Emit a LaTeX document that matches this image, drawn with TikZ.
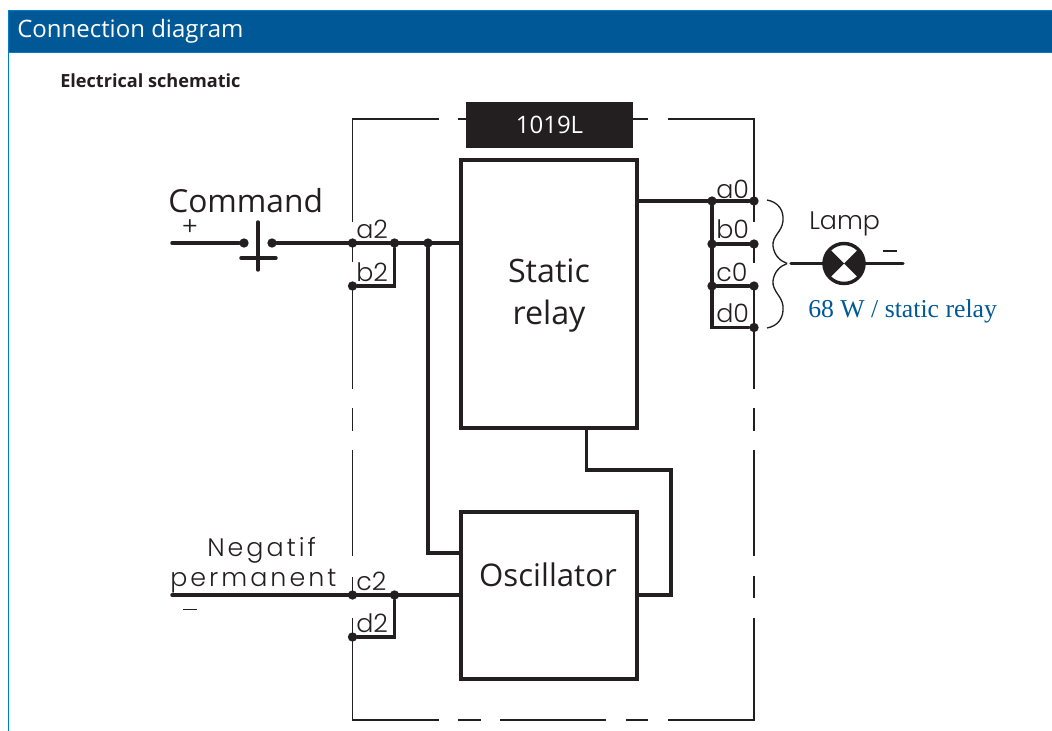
\documentclass[tikz,border=0pt]{standalone}
\usepackage{fontspec}
\setmainfont{Open Sans}
\newfontfamily\serifblue{Liberation Serif}
\newfontfamily\cadfont[LetterSpace=12]{Poppins Light}
\newfontfamily\cadtight{Poppins Light}
\usetikzlibrary{calc}
\definecolor{headblue}{RGB}{0,88,150}
\definecolor{edgeblue}{RGB}{0,125,195}
\definecolor{ink}{RGB}{35,31,32}
\tikzset{
  x=0.75pt,y=-0.75pt,
  heavy/.style={draw=ink,line width=3pt,line join=miter,line cap=round},
  wire/.style={draw=ink,line width=2.6pt,line cap=round},
  frameline/.style={draw=ink,line width=1pt},
  dot/.style={circle,fill=ink,inner sep=0pt,minimum size=7pt},
  blocklabel/.style={inner sep=0pt,text=ink,font=\fontsize{24.2}{30}\selectfont},
  cad/.style={inner sep=0pt,text=ink,anchor=base west,font=\cadtight\fontsize{19}{22}\selectfont},
  cadbig/.style={inner sep=0pt,text=ink,anchor=base west,font=\cadfont\fontsize{19}{22}\selectfont},
  brace/.style={draw=ink,line width=1pt},
}
\begin{document}
\begin{tikzpicture}
\useasboundingbox (0,0) rectangle (1052,731);
% page frame and header
\draw[edgeblue,line width=1.2pt] (8.5,731) -- (8.5,10);
\node[fill=headblue,draw=edgeblue,line width=0.8pt,minimum width=785pt,minimum height=31.5pt,anchor=north west,inner sep=0pt] (header) at (8,10) {};
\node[anchor=base west,inner sep=0pt,text=white,font=\fontsize{18}{22}\selectfont] (title) at (17,38) {Connection diagram};
\node[anchor=base west,inner sep=0pt,text=ink,font=\bfseries\fontsize{13.6}{16}\selectfont] (sub) at (60,88) {Electrical schematic};
% dashed enclosure
\draw[frameline] (439,119) -- (352.5,119) -- (352.5,222);
\draw[frameline] (458,119) -- (470,119);
\draw[frameline] (630,119) -- (648,119);
\draw[frameline] (668,119) -- (754,119) -- (754,222);
\draw[frameline] (352.5,243) -- (352.5,262);
\draw[frameline] (352.5,286) -- (352.5,389);
\draw[frameline] (352.5,408) -- (352.5,431);
\draw[frameline] (352.5,450) -- (352.5,556);
\draw[frameline] (352.5,577) -- (352.5,598);
\draw[frameline] (352.5,618) -- (352.5,720) -- (439,720);
\draw[frameline] (458,720) -- (481,720);
\draw[frameline] (500,720) -- (606,720);
\draw[frameline] (626,720) -- (648,720);
\draw[frameline] (668,720) -- (754,720) -- (754,618);
\draw[frameline] (754,576) -- (754,598);
\draw[frameline] (754,450) -- (754,556);
\draw[frameline] (754,408) -- (754,431);
\draw[frameline] (754,286) -- (754,389);
\draw[frameline] (754,244) -- (754,263);
% title tag
\node[fill=ink,minimum width=125.25pt,minimum height=34.5pt,inner sep=0pt,text=white,font=\fontsize{18}{22}\selectfont] (tag) at (549.5,125) {1019L};
% blocks
\node[heavy,minimum width=132pt,minimum height=201pt,inner sep=0pt] (relay) at (549,294) {};
\node[blocklabel,anchor=base] (relayA) at (549,282) {Static};
\node[blocklabel,anchor=base] (relayB) at (549,324) {relay};
\node[heavy,minimum width=132pt,minimum height=125.25pt,inner sep=0pt] (osc) at (549,595) {};
\node[blocklabel,anchor=base,font=\fontsize{23.4}{30}\selectfont] (oscT) at (548,586) {Oscillator};
% junctions
\node[dot] (ja) at (352.5,243) {};
\node[dot] (jb) at (394.5,243) {};
\node[dot] (jc) at (428,243) {};
\node[dot] (jd) at (352.5,286) {};
\node[dot] (je) at (352.5,595) {};
\node[dot] (jf) at (394.5,595) {};
\node[dot] (jg) at (352.5,637) {};
\node[dot] (sw1) at (244,243) {};
\node[dot] (sw2) at (272,243) {};
\node[dot] (a0) at (754,201) {};
\node[dot] (a0i) at (712,201) {};
\node[dot] (b0) at (754,244) {};
\node[dot] (b0i) at (712,244) {};
\node[dot] (c0) at (754,286) {};
\node[dot] (c0i) at (712,286) {};
\node[dot] (d0) at (754,327.5) {};
\coordinate (cmdL) at (172,243);
\coordinate (negL) at (172,595);
\coordinate (d0i) at (712,327.5);
\coordinate (relayOut) at (637,201);
\coordinate (relayIn) at (461,243);
\coordinate (oscIn) at (461,595);
\coordinate (oscUp) at (461,553);
\coordinate (relayB2) at (586.5,428);
\coordinate (relayB3) at (586.5,470);
\coordinate (relayB4) at (671,470);
\coordinate (relayB5) at (671,595);
\coordinate (oscOut) at (637,595);
% wiring
\draw[wire] (cmdL) -- (sw1);
\draw[wire] (sw2) -- (relayIn);
\draw[wire] (jb) |- (jd);
\draw[wire] (jc) |- (oscUp);
\draw[wire] (negL) -- (oscIn);
\draw[wire] (jf) |- (jg);
\draw[wire,line join=miter] (relayB2) -- (relayB3) -- (relayB4) -- (relayB5) -- (oscOut);
\draw[wire] (relayOut) -- (a0);
\draw[wire] (a0i) -- (d0i) -- (d0);
\draw[wire] (b0i) -- (b0);
\draw[wire] (c0i) -- (c0);
% switch plates
\coordinate (plTop) at (258,222);
\coordinate (plBot) at (258,270);
\coordinate (plL) at (241,258);
\coordinate (plR) at (276,258);
\draw[wire] (plTop) -- (plBot);
\draw[wire] (plL) -- (plR);
% braces
\coordinate (tip) at (787,263.5);
\draw[brace] (767,200) .. controls (778,202) and (784,210) .. (783,221) .. controls (782,232) and (772,236) .. (773,246) .. controls (774,255) and (780,261) .. (tip);
\draw[brace] (767,328) .. controls (778,326) and (784,318) .. (783,306) .. controls (782,296) and (772,291) .. (773,281) .. controls (774,272) and (780,266) .. (tip);
% lamp
\coordinate (lampC) at (844,263.5);
\coordinate (lampIn) at (791,263.5);
\coordinate (lampOut) at (903,263.5);
\draw[wire] (lampIn) -- (lampC) -- (lampOut);
\fill[white] (lampC) circle[radius=20];
\begin{scope}
\clip (lampC) circle[radius=20];
\fill[ink] (lampC) -- ++(-22,-22) -- ++(0,44) -- cycle;
\fill[ink] (lampC) -- ++(22,-22) -- ++(0,44) -- cycle;
\end{scope}
\node[circle,draw=ink,line width=2.6pt,minimum size=30pt,inner sep=0pt] (lamp) at (lampC) {};
% text
\node[anchor=base west,inner sep=0pt,text=ink,font=\fontsize{23.8}{30}\selectfont] (cmd) at (168,212) {Command};
\node[cad] (ta2) at (356,238) {a2};
\node[cad] (tb2) at (356,281) {b2};
\node[cad] (tc2) at (356,590) {c2};
\node[cad] (td2) at (356,632) {d2};
\node[cad] (ta0) at (716,198) {a0};
\node[cad] (tb0) at (716,238) {b0};
\node[cad] (tc0) at (716,281) {c0};
\node[cad] (td0) at (716,322) {d0};
\node[cad] (lampT) at (809,229) {Lamp};
\node[cadbig] (neg1) at (207,556) {Negatif};
\node[cadbig] (neg2) at (170,586) {permanent};
\node[inner sep=0pt,text=ink,font=\cadtight\fontsize{19}{22}\selectfont] (plus) at (190,228) {+};
\draw[line width=0.9pt,draw=ink] (183,609.5) -- (197,609.5);
\draw[line width=0.9pt,draw=ink] (883,251) -- (897,251);
\node[anchor=base west,inner sep=0pt,text=headblue,font=\serifblue\fontsize{19.3}{22}\selectfont] (watt) at (808,317) {68 W / static relay};
\end{tikzpicture}
\end{document}
